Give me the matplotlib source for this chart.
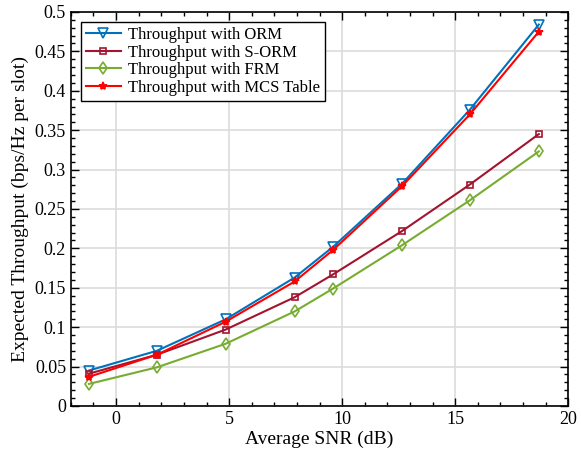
import matplotlib
matplotlib.use('Agg')
import matplotlib.pyplot as plt
from matplotlib.ticker import MultipleLocator, FuncFormatter

plt.rcParams['font.family'] = ['Liberation Serif', 'DejaVu Serif']
plt.rcParams['mathtext.fontset'] = 'stix'

# average SNR (dB) for each operating point
snr = [-1.2, 1.8, 4.85, 7.9, 9.6, 12.65, 15.65, 18.7]

# expected throughput (bps/Hz per slot)
orm = [0.045, 0.070, 0.110, 0.163, 0.202, 0.282, 0.376, 0.484]
sorm = [0.041, 0.065, 0.097, 0.138, 0.167, 0.222, 0.281, 0.345]
frm = [0.028, 0.049, 0.079, 0.120, 0.149, 0.204, 0.261, 0.323]
mcs = [0.037, 0.065, 0.107, 0.158, 0.198, 0.279, 0.370, 0.475]

fig = plt.figure(figsize=(5.81, 4.59), dpi=100)
ax = fig.add_axes([0.122, 0.1155, 0.856, 0.8585])

ax.plot(snr, orm, color='#0072BD', marker='v', mfc='none', ms=6.5, mew=1.2, lw=1.5,
        label='Throughput with ORM')
ax.plot(snr, sorm, color='#A2142F', marker='s', mfc='none', ms=4.5, mew=1.2, lw=1.5,
        label='Throughput with S-ORM')
ax.plot(snr, frm, color='#77AC30', marker='d', mfc='none', ms=6.5, mew=1.2, lw=1.5,
        label='Throughput with FRM')
ax.plot(snr, mcs, color='#FF0000', marker='*', ms=6, mew=1.2, lw=1.5,
        label='Throughput with MCS Table')

ax.set_xlim(-2, 20)
ax.set_ylim(0, 0.5)
ax.xaxis.set_major_locator(MultipleLocator(5))
ax.xaxis.set_minor_locator(MultipleLocator(1))
ax.yaxis.set_major_locator(MultipleLocator(0.05))
ax.yaxis.set_minor_locator(MultipleLocator(0.01))
ax.yaxis.set_major_formatter(FuncFormatter(lambda v, p: '%g' % round(v, 2)))

ax.grid(True, which='major', color='#DCDCDC', lw=1.2)
ax.set_axisbelow(True)
ax.tick_params(which='both', direction='in', top=True, right=True, labelsize=13,
               width=1.0)
ax.tick_params(which='major', length=6)
ax.tick_params(which='minor', length=3)
for s in ax.spines.values():
    s.set_linewidth(1.2)

ax.set_xlabel('Average SNR (dB)', fontsize=14, labelpad=2)
ax.set_ylabel('Expected Throughput (bps/Hz per slot)', fontsize=14, labelpad=4)

leg = ax.legend(loc='upper left', fontsize=12, fancybox=False, framealpha=1,
                edgecolor='black', borderpad=0.3, labelspacing=0.1,
                handlelength=2.1, handletextpad=0.4, borderaxespad=0.6)
leg.get_frame().set_linewidth(1.0)

fig.savefig('out.png', dpi=100)
